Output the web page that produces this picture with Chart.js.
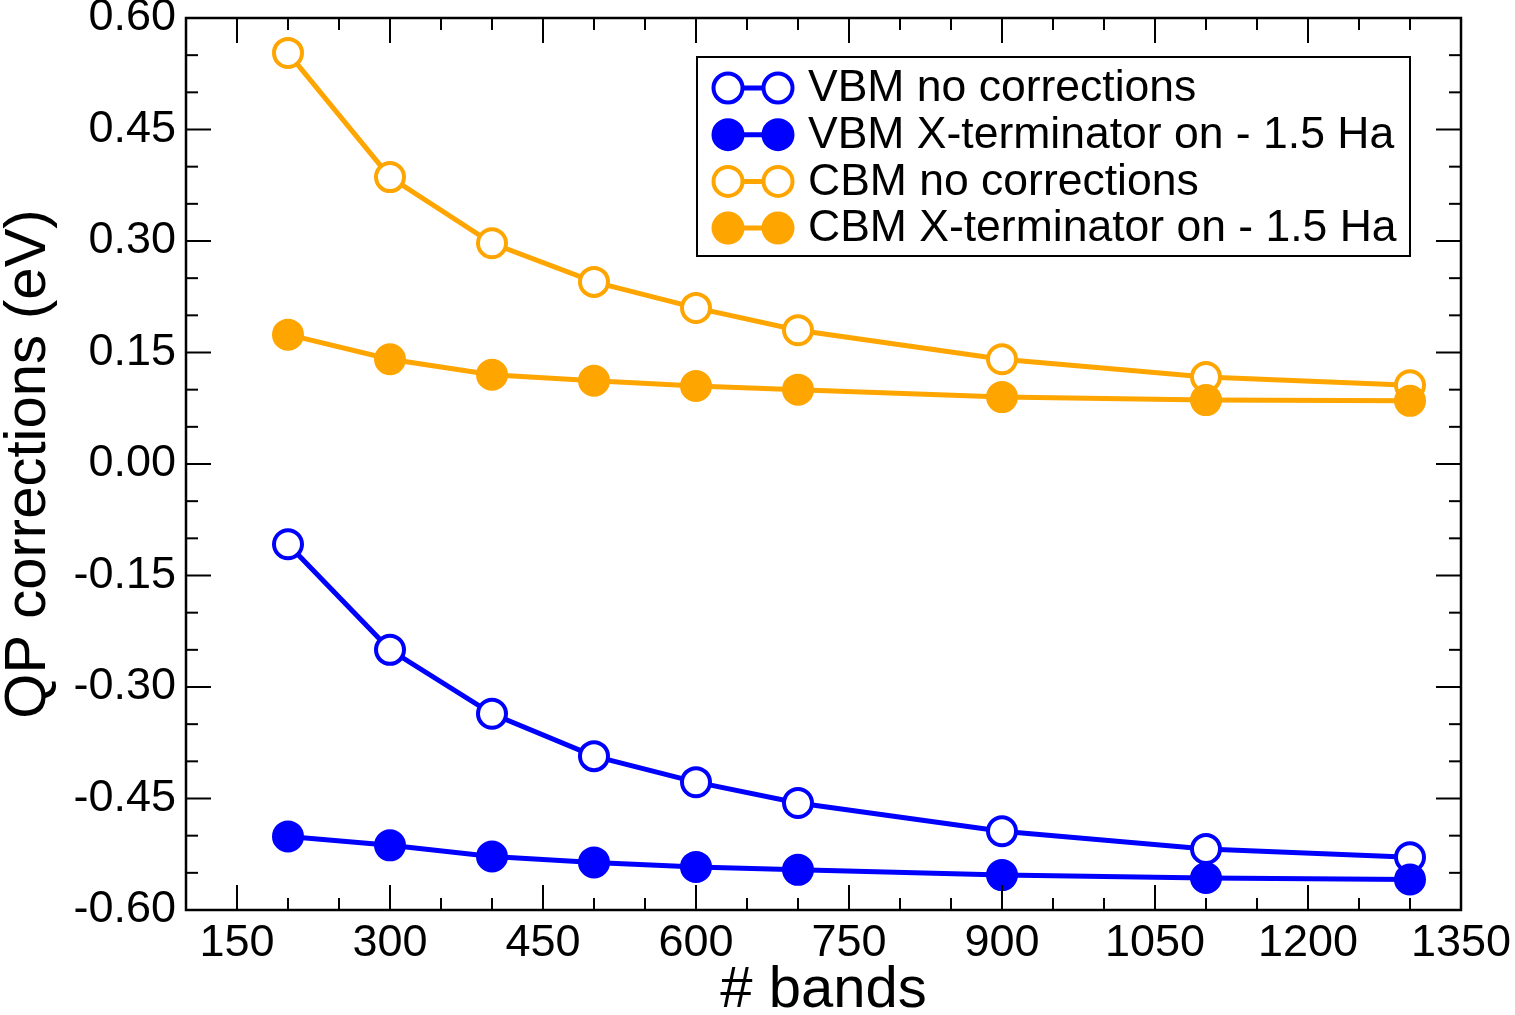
<!DOCTYPE html>
<html>
<head>
<meta charset="utf-8">
<script src="https://cdn.jsdelivr.net/npm/chart.js@4"></script>
<style>
  body { margin: 0; background: #fff; }
  #wrap { width: 1515px; height: 1015px; }
</style>
</head>
<body>
<div id="wrap"><canvas id="qpChart" width="1515" height="1015"></canvas></div>
<script>
// Numero de bandas (eixo x)
const bandas = [200, 300, 400, 500, 600, 700, 900, 1100, 1300];

// Correcoes QP (eV)
const vbmSemCorrecao = [-0.108, -0.250, -0.336, -0.393, -0.428, -0.456, -0.494, -0.518, -0.529];
const vbmTerminador  = [-0.501, -0.513, -0.528, -0.536, -0.542, -0.546, -0.553, -0.557, -0.559];
const cbmSemCorrecao = [0.553, 0.386, 0.297, 0.245, 0.210, 0.180, 0.141, 0.117, 0.106];
const cbmTerminador  = [0.174, 0.141, 0.120, 0.112, 0.105, 0.100, 0.090, 0.086, 0.085];

const rotulos = [
    "VBM no corrections",
    "VBM X-terminator on - 1.5 Ha",
    "CBM no corrections",
    "CBM X-terminator on - 1.5 Ha"
];

// Ticks
const xTicks = [150, 300, 450, 600, 750, 900, 1050, 1200, 1350];
const yTicks = [-0.60, -0.45, -0.30, -0.15, 0.00, 0.15, 0.30, 0.45, 0.60];
const xMenor = 50;
const yMenor = 0.05;

const AZUL = "#0000ff";
const LARANJA = "#ffa500";
const FONTE = "'Liberation Sans', Arial, sans-serif";

function serie(label, valores, cor, cheio, ordem) {
    return {
        label: label,
        data: bandas.map((b, i) => ({ x: b, y: valores[i] })),
        borderColor: cor,
        backgroundColor: cor,
        borderWidth: 5,
        pointRadius: 14,
        pointHoverRadius: 14,
        pointBorderWidth: 4,
        pointBackgroundColor: cheio ? cor : "#ffffff",
        pointBorderColor: cor,
        tension: 0,
        order: ordem,
        cheio: cheio
    };
}

// Moldura + ticks internos nos quatro lados
const molduraPlugin = {
    id: "moldura",
    afterDatasetsDraw(chart) {
        const ctx = chart.ctx;
        const a = chart.chartArea;
        const sx = chart.scales.x, sy = chart.scales.y;
        ctx.save();
        ctx.strokeStyle = "#000";
        ctx.lineWidth = 2;
        const marca = (x1, y1, x2, y2) => {
            ctx.beginPath(); ctx.moveTo(x1, y1); ctx.lineTo(x2, y2); ctx.stroke();
        };
        // x
        for (let v = Math.ceil(sx.min / xMenor) * xMenor; v <= sx.max + 1e-9; v += xMenor) {
            const px = sx.getPixelForValue(v);
            const len = xTicks.some(t => Math.abs(t - v) < 1e-6) ? 25 : 12;
            marca(px, a.bottom, px, a.bottom - len);
            marca(px, a.top, px, a.top + len);
        }
        // y
        for (let k = Math.round(sy.min / yMenor); k * yMenor <= sy.max + 1e-9; k++) {
            const v = k * yMenor;
            const py = sy.getPixelForValue(v);
            const len = yTicks.some(t => Math.abs(t - v) < 1e-6) ? 25 : 12;
            marca(a.left, py, a.left + len, py);
            marca(a.right, py, a.right - len, py);
        }
        ctx.lineWidth = 2.5;
        ctx.strokeRect(a.left, a.top, a.right - a.left, a.bottom - a.top);
        ctx.restore();
    }
};

// Legenda interna
const legendaPlugin = {
    id: "legendaInterna",
    afterDraw(chart) {
        const ctx = chart.ctx;
        const a = chart.chartArea;
        const x0 = a.right - 764, y0 = a.top + 39, w = 713, h = 199;
        ctx.save();
        ctx.fillStyle = "#fff";
        ctx.fillRect(x0, y0, w, h);
        ctx.strokeStyle = "#000";
        ctx.lineWidth = 2;
        ctx.strokeRect(x0, y0, w, h);
        ctx.font = "44.5px " + FONTE;
        ctx.textBaseline = "middle";
        ctx.textAlign = "left";
        chart.data.datasets.forEach((ds, i) => {
            const yc = y0 + 31 + i * 46.7;
            const c1 = x0 + 31, c2 = x0 + 81;
            ctx.strokeStyle = ds.borderColor;
            ctx.lineWidth = 5;
            ctx.beginPath(); ctx.moveTo(c1, yc); ctx.lineTo(c2, yc); ctx.stroke();
            [c1, c2].forEach(cx => {
                ctx.beginPath();
                ctx.arc(cx, yc, 14.5, 0, Math.PI * 2);
                ctx.fillStyle = ds.cheio ? ds.borderColor : "#fff";
                ctx.fill();
                ctx.lineWidth = 4;
                ctx.stroke();
            });
            ctx.fillStyle = "#000";
            ctx.fillText(ds.label, x0 + 111, yc + 1);
        });
        ctx.restore();
    }
};

const ctx = document.getElementById("qpChart").getContext("2d");
new Chart(ctx, {
    type: "line",
    data: {
        datasets: [
            serie(rotulos[0], vbmSemCorrecao, AZUL, false, 3),
            serie(rotulos[1], vbmTerminador, AZUL, true, 2),
            serie(rotulos[2], cbmSemCorrecao, LARANJA, false, 1),
            serie(rotulos[3], cbmTerminador, LARANJA, true, 0)
        ]
    },
    options: {
        responsive: false,
        animation: false,
        clip: false,
        layout: { padding: { top: 18, right: 54, left: 0, bottom: 0 } },
        plugins: {
            legend: { display: false },
            tooltip: { enabled: false }
        },
        scales: {
            x: {
                type: "linear",
                min: 100,
                max: 1350,
                afterBuildTicks: s => { s.ticks = xTicks.map(v => ({ value: v })); },
                afterFit: s => { s.height = 105; s.paddingLeft = 0; s.paddingRight = 0; },
                grid: { display: false },
                border: { display: false },
                ticks: {
                    padding: -1,
                    color: "#000",
                    maxRotation: 0,
                    autoSkip: false,
                    font: { family: FONTE, size: 45 },
                    callback: v => String(v)
                },
                title: {
                    display: true,
                    text: "# bands",
                    color: "#000",
                    padding: { top: 0, bottom: -11 },
                    font: { family: FONTE, size: 58 }
                }
            },
            y: {
                type: "linear",
                min: -0.6,
                max: 0.6,
                afterBuildTicks: s => { s.ticks = yTicks.map(v => ({ value: v })); },
                afterFit: s => { s.width = 186; s.paddingTop = 0; s.paddingBottom = 0; },
                grid: { display: false },
                border: { display: false },
                ticks: {
                    padding: 2,
                    color: "#000",
                    autoSkip: false,
                    font: { family: FONTE, size: 45 },
                    callback: v => v.toFixed(2)
                },
                title: {
                    display: true,
                    text: "QP corrections (eV)",
                    color: "#000",
                    padding: { top: -6, bottom: 0 },
                    font: { family: FONTE, size: 58 }
                }
            }
        }
    },
    plugins: [molduraPlugin, legendaPlugin]
});
</script>
</body>
</html>
